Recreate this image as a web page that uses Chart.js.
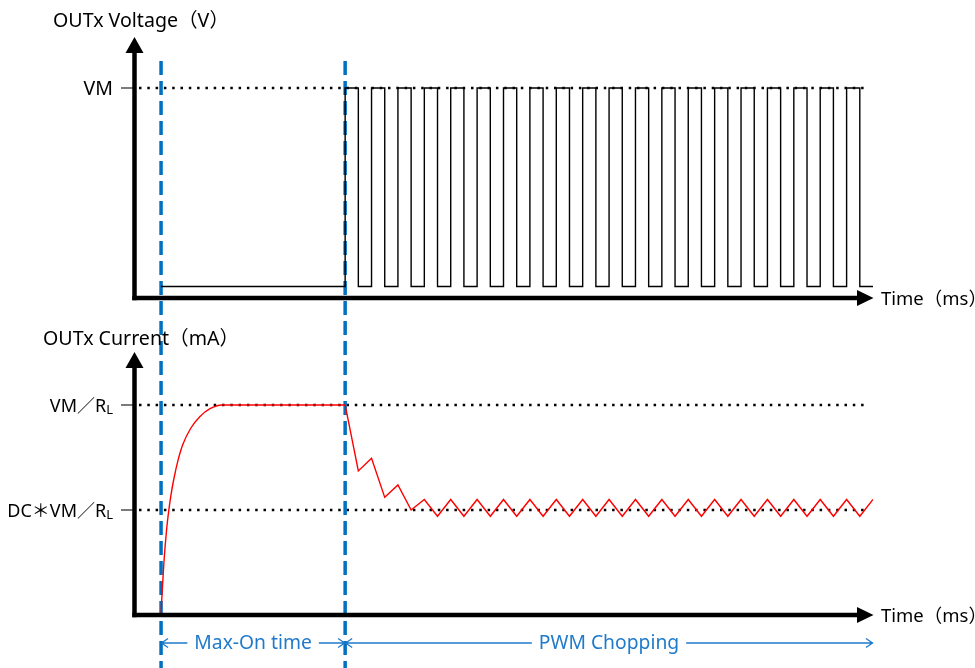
<!DOCTYPE html>
<html><head><meta charset="utf-8">
<script src="https://cdn.jsdelivr.net/npm/chart.js@4.4.0/dist/chart.umd.min.js"></script>
<style>
html,body{margin:0;padding:0;background:#fff;overflow:hidden}
#wrap{position:relative;width:975px;height:668px;background:#fff}
canvas{position:absolute;left:0}
#cv{top:0}
#ci{top:320px}
</style></head><body>
<div id="wrap"><canvas id="cv" width="975" height="320"></canvas><canvas id="ci" width="975" height="348"></canvas></div>
<script>
// ---------- data (time in arbitrary units, 1 unit = half a PWM period) ----------
const timeEnd = 56;
const maxOnStart = 2.05;
const pwmStart = 16;

// OUTx voltage waveform (V, VM = 10)
const voltTime = [2.05,
  16,16,17,17, 18,18,19,19, 20,20,21,21, 22,22,23,23, 24,24,25,25,
  26,26,27,27, 28,28,29,29, 30,30,31,31, 32,32,33,33, 34,34,35,35,
  36,36,37,37, 38,38,39,39, 40,40,41,41, 42,42,43,43, 44,44,45,45,
  46,46,47,47, 48,48,49,49, 50,50,51,51, 52,52,53,53, 54,54,55,55,
  56];
const voltLevel = [0.55,
  0.55,10,10,0.55, 0.55,10,10,0.55, 0.55,10,10,0.55, 0.55,10,10,0.55, 0.55,10,10,0.55,
  0.55,10,10,0.55, 0.55,10,10,0.55, 0.55,10,10,0.55, 0.55,10,10,0.55, 0.55,10,10,0.55,
  0.55,10,10,0.55, 0.55,10,10,0.55, 0.55,10,10,0.55, 0.55,10,10,0.55, 0.55,10,10,0.55,
  0.55,10,10,0.55, 0.55,10,10,0.55, 0.55,10,10,0.55, 0.55,10,10,0.55, 0.55,10,10,0.55,
  0.55];

// OUTx current waveform (VM/RL = 10)
const currTime = [2.05, 2.12, 2.27, 2.48, 2.63, 2.80, 3.03, 3.31, 3.69, 4.30, 5.0, 5.76, 6.64, 16,
  17, 18, 19, 20, 21, 22, 23, 24, 25, 26, 27, 28, 29, 30, 31, 32, 33, 34, 35, 36,
  37, 38, 39, 40, 41, 42, 43, 44, 45, 46, 47, 48, 49, 50, 51, 52, 53, 54, 55, 56];
const currLevel = [0, 0.95, 2.54, 4.13, 4.95, 5.71, 6.51, 7.30, 8.10, 8.89, 9.45, 9.82, 10, 10,
  6.86, 7.46, 5.6, 6.19, 5.0, 5.5, 4.7, 5.5, 4.7, 5.5, 4.7, 5.5, 4.7, 5.5, 4.7, 5.5, 4.7, 5.5, 4.7, 5.5,
  4.7, 5.5, 4.7, 5.5, 4.7, 5.5, 4.7, 5.5, 4.7, 5.5, 4.7, 5.5, 4.7, 5.5, 4.7, 5.5, 4.7, 5.5, 4.7, 5.5];
const riseEndIndex = 13; // smooth exponential rise ends here

// reference levels and their tick labels
const voltTicks = [10];
const voltTickLabels = [["VM", ""]];
const currTicks = [10, 5];
const currTickLabels = [["VM／R", "L"], ["DC＊VM／R", "L"]];

const voltTitle = "OUTx Voltage（V）";
const currTitle = "OUTx Current（mA）";
const timeTitle = "Time（ms）";
const phaseLabels = ["Max-On time", "PWM Chopping"];

// ---------- drawing helpers ----------
const FONT = '"Noto Sans","Noto Sans CJK JP",sans-serif';
const BLUE = '#0070C0';
const ABLUE = '#1F7ACB';

function toPts(t, v, a, b) {
  const out = [];
  for (let i = a; i < b; i++) out.push({x: t[i], y: v[i]});
  return out;
}

function makePlugin(opts) {
  return {
    id: 'deco' + opts.name,
    beforeDatasetsDraw(chart) {
      const ctx = chart.ctx, xs = chart.scales.x, ys = chart.scales.y, ca = chart.chartArea;
      ctx.save();
      // dotted reference lines + small ticks
      opts.ticks.forEach(v => {
        const y = Math.round(ys.getPixelForValue(v));
        ctx.setLineDash([]);
        ctx.strokeStyle = '#222'; ctx.lineWidth = 1.2;
        ctx.beginPath(); ctx.moveTo(121, y); ctx.lineTo(ca.left, y); ctx.stroke();
        ctx.setLineDash([2.5, 5.8]);
        ctx.strokeStyle = '#000'; ctx.lineWidth = 2.5;
        ctx.beginPath(); ctx.moveTo(ca.left + 5, y); ctx.lineTo(868, y); ctx.stroke();
      });
      // blue dashed phase boundaries (continuous across both canvases)
      ctx.setLineDash([14, 6]);
      ctx.strokeStyle = BLUE; ctx.lineWidth = 3.5;
      [maxOnStart, pwmStart].forEach(t => {
        const x = xs.getPixelForValue(t);
        ctx.beginPath(); ctx.moveTo(x, 61 - opts.offset); ctx.lineTo(x, 668 - opts.offset); ctx.stroke();
      });
      ctx.restore();
    },
    afterDatasetsDraw(chart) {
      const ctx = chart.ctx, xs = chart.scales.x, ys = chart.scales.y, ca = chart.chartArea;
      ctx.save();
      ctx.setLineDash([]);
      // axes with arrows
      const ax = ca.left + 0.5, ay = ca.bottom;
      ctx.strokeStyle = '#000'; ctx.fillStyle = '#000'; ctx.lineWidth = 4.5;
      ctx.beginPath(); ctx.moveTo(ax - 2.2, ay); ctx.lineTo(ca.right - 15, ay); ctx.stroke();
      ctx.beginPath(); ctx.moveTo(ca.right + 0.5, ay); ctx.lineTo(ca.right - 16, ay - 8); ctx.lineTo(ca.right - 16, ay + 8); ctx.closePath(); ctx.fill();
      ctx.beginPath(); ctx.moveTo(ax, ay + 2.2); ctx.lineTo(ax, ca.top + 15); ctx.stroke();
      ctx.beginPath(); ctx.moveTo(ax, ca.top); ctx.lineTo(ax - 9, ca.top + 16); ctx.lineTo(ax + 9, ca.top + 16); ctx.closePath(); ctx.fill();
      // titles
      ctx.fillStyle = '#000';
      ctx.font = '19.6px ' + FONT;
      ctx.textBaseline = 'alphabetic'; ctx.textAlign = 'left';
      ctx.fillText(opts.title, opts.titleX, opts.titleY);
      ctx.font = '18.5px ' + FONT;
      ctx.fillText(timeTitle, ca.right + 8, ay + 6.5);
      // tick labels with subscript
      opts.ticks.forEach((v, i) => {
        const y = ys.getPixelForValue(v);
        const [main, sub] = opts.labels[i];
        ctx.font = '13px ' + FONT;
        const sw = sub ? ctx.measureText(sub).width : 0;
        const right = 113;
        ctx.font = (sub ? '18px ' : '19.5px ') + FONT;
        ctx.textAlign = 'right'; ctx.textBaseline = 'alphabetic';
        ctx.fillText(main, right - sw, y + 6.8);
        if (sub) {
          ctx.font = '13px ' + FONT; ctx.textAlign = 'left';
          ctx.fillText(sub, right - sw, y + 9.5);
        }
      });
      // phase annotation (bottom chart only)
      if (opts.annot) {
        const yA = 643 - opts.offset;
        const x0 = xs.getPixelForValue(maxOnStart), x1 = xs.getPixelForValue(pwmStart), x2 = xs.getPixelForValue(timeEnd);
        ctx.font = '19.3px ' + FONT; ctx.textAlign = 'center'; ctx.textBaseline = 'middle';
        ctx.fillStyle = ABLUE; ctx.strokeStyle = ABLUE; ctx.lineWidth = 1.3;
        const seg = (a, b, label, cx) => {
          const w = ctx.measureText(label).width;
          ctx.fillText(label, cx, yA + 1);
          ctx.beginPath();
          ctx.moveTo(a, yA); ctx.lineTo(cx - w / 2 - 7, yA);
          ctx.moveTo(cx + w / 2 + 7, yA); ctx.lineTo(b, yA);
          // arrow chevrons
          ctx.moveTo(a + 7, yA - 4.5); ctx.lineTo(a + 0.5, yA); ctx.lineTo(a + 7, yA + 4.5);
          ctx.moveTo(b - 7, yA - 4.5); ctx.lineTo(b - 0.5, yA); ctx.lineTo(b - 7, yA + 4.5);
          ctx.stroke();
        };
        seg(x0, x1, phaseLabels[0], (x0 + x1) / 2);
        seg(x1, x2, phaseLabels[1], 609);
      }
      ctx.restore();
    }
  };
}

function makeChart(id, datasets, yMax, pad, plugin) {
  return new Chart(document.getElementById(id), {
    type: 'line',
    data: {datasets},
    options: {
      responsive: false, animation: false, events: [],
      layout: {padding: pad},
      plugins: {legend: {display: false}, tooltip: {enabled: false}},
      scales: {
        x: {type: 'linear', min: 0, max: timeEnd, display: false},
        y: {type: 'linear', min: 0, max: yMax, display: false}
      },
      elements: {point: {radius: 0}}
    },
    plugins: [plugin]
  });
}

makeChart('cv', [{
  data: toPts(voltTime, voltLevel, 0, voltTime.length),
  borderColor: '#000', borderWidth: 1.4, tension: 0, fill: false
}], 12.43, {left: 134, right: 102, top: 37, bottom: 22},
makePlugin({name: 'V', ticks: voltTicks, labels: voltTickLabels, title: voltTitle, titleX: 53, titleY: 27, offset: 0, annot: false}));

makeChart('ci', [{
  data: toPts(currTime, currLevel, 0, riseEndIndex + 1),
  borderColor: '#FF0000', borderWidth: 1.4, cubicInterpolationMode: 'monotone', fill: false
}, {
  data: toPts(currTime, currLevel, riseEndIndex, currTime.length),
  borderColor: '#FF0000', borderWidth: 1.4, tension: 0, fill: false
}], 12.52, {left: 134, right: 102, top: 32, bottom: 53},
makePlugin({name: 'I', ticks: currTicks, labels: currTickLabels, title: currTitle, titleX: 43, titleY: 345 - 320, offset: 320, annot: true}));
</script>
</body></html>
